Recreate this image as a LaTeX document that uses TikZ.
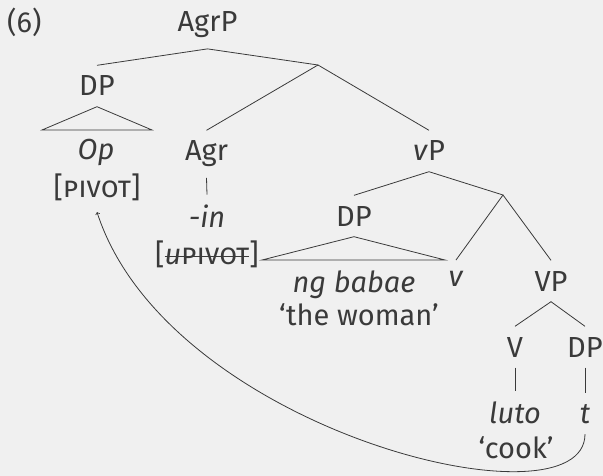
\documentclass[tikz,border=0pt]{standalone}
\usepackage{fontspec}
\setmainfont{Fira Sans}
\newcommand{\strikeout}[1]{\setbox0\hbox{#1}\rlap{\rule[0.28em]{\wd0}{0.8pt}}\box0}
\definecolor{ink}{HTML}{3A3A3A}
\definecolor{paper}{HTML}{F0F0F0}
\begin{document}
\begin{tikzpicture}[x=10pt,y=10pt]
    \tikzstyle{every node}+=[inner sep=10.5pt, anchor=base, text=ink, font=\fontsize{29}{35}\selectfont]
    \tikzstyle{branch}=[draw=ink, line width=0.8pt]
    \fill [paper] (0,0) rectangle (60.3,-47.6);
    \useasboundingbox (0,0) rectangle (60.3,-47.6);
    % labels
    \node (ex) [inner sep=0pt, anchor=base west] at (0.7,-3.3) {(6)};
    \node (agrp) at (20.75,-3.2) {AgrP};
    \coordinate (agrbar) at (31.8,-6.5);
    \node (dpa) at (9.7,-9.6) {DP};
    \coordinate (dpaL) at (4.2,-13.0);
    \coordinate (dpaR) at (15.2,-13.0);
    \node (op) at (9.6,-16.0) {\textit{Op}};
    \node (pivot) at (9.7,-19.8) {[\textsc{pivot}]};
    \node (agr) at (20.65,-16.1) {Agr};
    \node (in) at (20.7,-22.8) {\textit{-in}};
    \node (upivot) at (20.7,-26.5) {[\strikeout{\textit{u}\textsc{pivot}}]};
    \node (vp) at (42.9,-16.1) {\textit{v}P};
    \coordinate (vbar) at (50.3,-19.5);
    \node (dpb) at (35.4,-22.6) {DP};
    \coordinate (dpbL) at (26.2,-26.0);
    \coordinate (dpbR) at (44.5,-26.0);
    \node (ngbabae) at (35.4,-29.2) {\textit{ng babae}};
    \node (woman) at (35.9,-32.5) {`the woman'};
    \node (vsmall) at (45.6,-28.6) {\textit{v}};
    \node (vpb) at (55.1,-29.1) {VP};
    \node (verb) at (51.5,-35.7) {V};
    \node (dpc) at (58.5,-35.7) {DP};
    \node (luto) at (51.5,-42.3) {\textit{luto}};
    \node (trace) at (58.5,-42.3) {\textit{t}};
    \node (cook) at (51.6,-45.8) {`cook'};
    % branches
    \draw [branch] (dpa.north) -- (agrp.south) -- (agrbar);
    \draw [branch] (agr.north) -- (agrbar) -- (vp.north);
    \draw [branch] (dpa.south) -- (dpaL) -- (dpaR) -- cycle;
    \draw [branch] (agr.south) -- (in.north);
    \draw [branch] (dpb.north) -- (vp.south) -- (vbar);
    \draw [branch] (dpb.south) -- (dpbL) -- (dpbR) -- cycle;
    \draw [branch] (vsmall.north) -- (vbar) -- (vpb.north);
    \draw [branch] (verb.north) -- (vpb.south) -- (dpc.north);
    \draw [branch] (verb.south) -- (luto.north);
    \draw [branch] (dpc.south) -- (trace.north);
    % movement
    \draw [branch, ->] (trace.south) .. controls (58.5,-53.2) and (16.8,-43.2) .. (pivot.south);
\end{tikzpicture}
\end{document}
